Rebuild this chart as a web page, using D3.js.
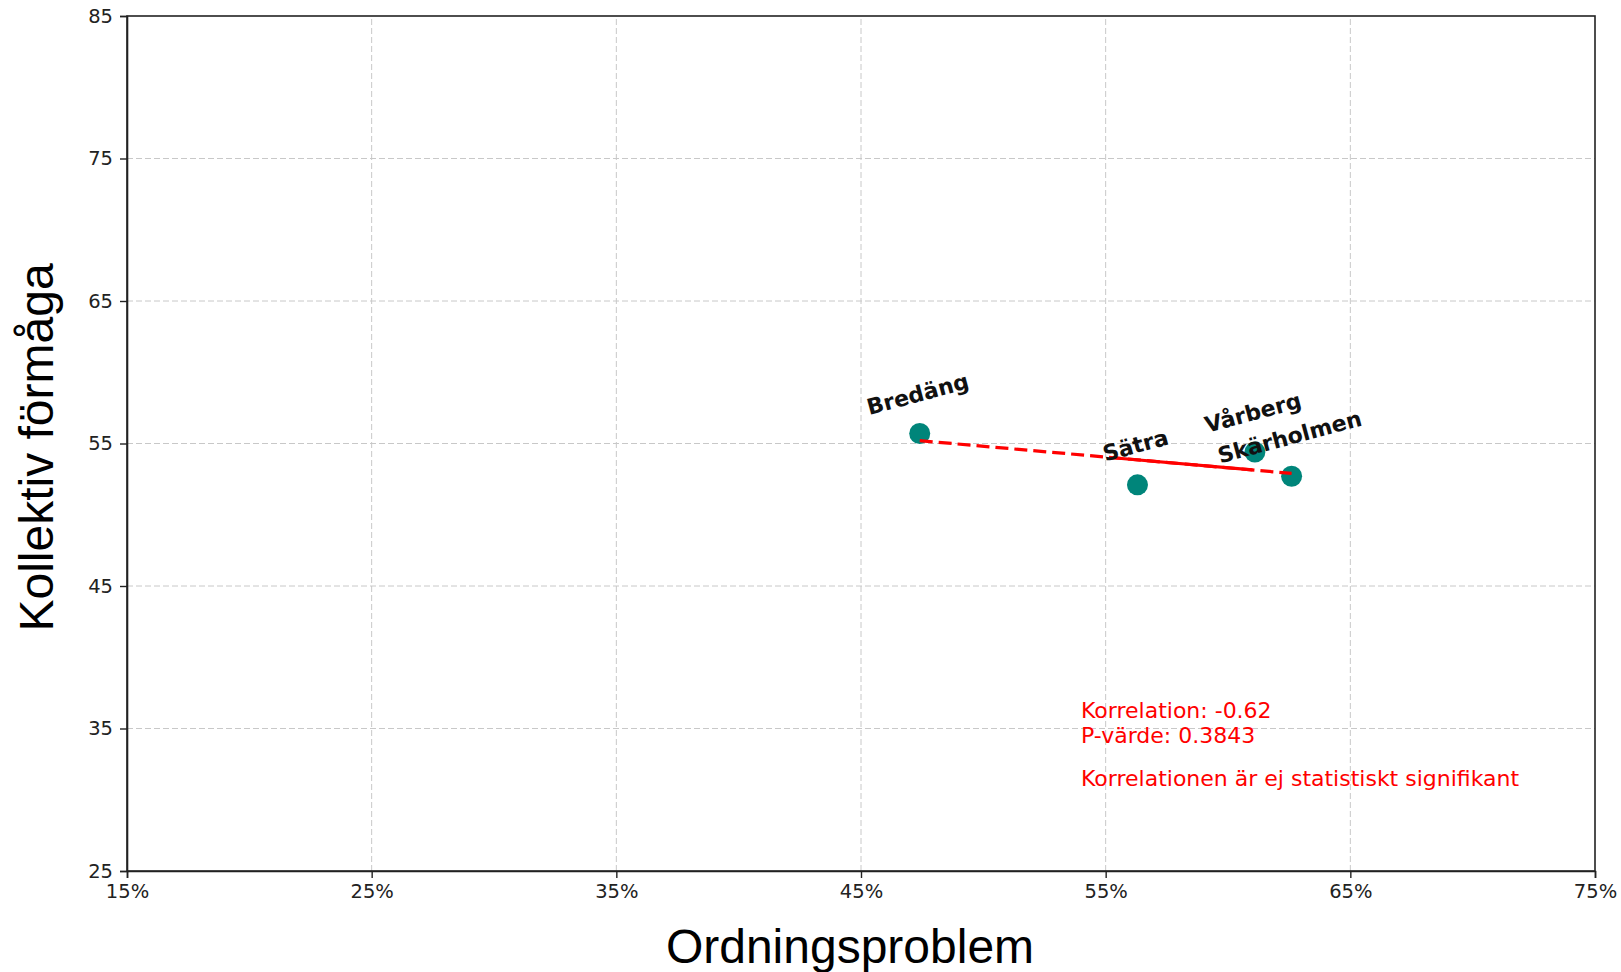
<!DOCTYPE html>
<html>
<head>
<meta charset="utf-8">
<script src="https://cdn.jsdelivr.net/npm/d3@7"></script>
<style>
  body { margin: 0; background: #fff; }
  svg { display: block; }
</style>
</head>
<body>
<div id="container"></div>
<script>
// data
const areas = ['Bredäng', 'Sätra', 'Vårberg', 'Skärholmen'];
const ordning = [47.4, 56.3, 61.1, 62.6];   // % (x)
const formaga = [55.7, 52.1, 54.4, 52.7];   // (y)

// trend line endpoints as drawn
const trendX = [47.4, 62.6];
const trendY = [55.2, 52.9];
// part of the trend line that shows solid
const solidX = [55.3, 61.0];
const solidY = [54.0, 53.15];

const xTicks = [15, 25, 35, 45, 55, 65, 75];
const yTicks = [25, 35, 45, 55, 65, 75, 85];

const statLines = ['Korrelation: -0.62', 'P-värde: 0.3843'];
const signifText = 'Korrelationen är ej statistiskt signifikant';

const width = 1621, height = 972;
const margin = { top: 16, right: 26, bottom: 101, left: 127 };

const svg = d3.select('#container').append('svg')
  .attr('width', width)
  .attr('height', height);

const x = d3.scaleLinear().domain([15, 75]).range([margin.left, width - margin.right]);
const y = d3.scaleLinear().domain([25, 85]).range([height - margin.bottom, margin.top]);

// grid
const grid = svg.append('g')
  .attr('stroke', '#c8c8c8')
  .attr('stroke-width', 1)
  .attr('stroke-dasharray', '6,3');
grid.selectAll('.vx').data(xTicks.slice(1, -1)).join('line')
  .attr('x1', d => x(d)).attr('x2', d => x(d))
  .attr('y1', y(25)).attr('y2', y(85));
grid.selectAll('.hy').data(yTicks.slice(1, -1)).join('line')
  .attr('x1', x(15)).attr('x2', x(75))
  .attr('y1', d => y(d)).attr('y2', d => y(d));

// axes
const xAxis = svg.append('g')
  .attr('transform', `translate(0,${height - margin.bottom})`)
  .call(d3.axisBottom(x).tickValues(xTicks).tickFormat(d => d + '%').tickSizeOuter(0).tickSize(7).tickPadding(6));
const yAxis = svg.append('g')
  .attr('transform', `translate(${margin.left},0)`)
  .call(d3.axisLeft(y).tickValues(yTicks).tickSizeOuter(0).tickSize(7).tickPadding(7));

[xAxis, yAxis].forEach(a => {
  a.selectAll('text')
    .style('font-family', 'DejaVu Sans')
    .style('font-size', '19.5px')
    .attr('fill', '#222');
  a.selectAll('line').attr('stroke', '#222').attr('stroke-width', 1.4);
  a.select('.domain').attr('stroke', '#222').attr('stroke-width', 1.6);
});

// top and right spines
svg.append('rect')
  .attr('x', x(15)).attr('y', y(85))
  .attr('width', x(75) - x(15)).attr('height', y(25) - y(85))
  .attr('fill', 'none')
  .attr('stroke', '#222')
  .attr('stroke-width', 1.6);

// points
const pts = areas.map((name, i) => ({ name, xv: ordning[i], yv: formaga[i] }));
svg.append('g').selectAll('circle').data(pts).join('circle')
  .attr('cx', d => x(d.xv))
  .attr('cy', d => y(d.yv))
  .attr('r', 10.5)
  .attr('fill', '#00857a');

// trend line
const line = d3.line().x(d => x(d[0])).y(d => y(d[1]));
svg.append('path')
  .datum(d3.zip(trendX, trendY))
  .attr('d', line)
  .attr('fill', 'none')
  .attr('stroke', '#ff0000')
  .attr('stroke-width', 3.2)
  .attr('stroke-dasharray', '13,6');
svg.append('path')
  .datum(d3.zip(solidX, solidY))
  .attr('d', line)
  .attr('fill', 'none')
  .attr('stroke', '#ff0000')
  .attr('stroke-width', 3.2);

// point labels
svg.append('g').selectAll('text').data(pts).join('text')
  .attr('transform', d => `translate(${x(d.xv)},${y(d.yv) - 32}) rotate(-15)`)
  .attr('text-anchor', 'middle')
  .style('font-family', 'DejaVu Sans')
  .style('font-weight', 'bold')
  .style('font-size', '22px')
  .attr('fill', '#111')
  .text(d => d.name);

// stats text
const statX = 1081;
svg.append('g').selectAll('text').data(statLines).join('text')
  .attr('x', statX)
  .attr('y', (d, i) => 718 + i * 25)
  .style('font-family', 'DejaVu Sans')
  .style('font-size', '22px')
  .attr('fill', '#ff0000')
  .text(d => d);
svg.append('text')
  .attr('x', statX)
  .attr('y', 786)
  .style('font-family', 'DejaVu Sans')
  .style('font-size', '22px')
  .attr('fill', '#ff0000')
  .text(signifText);

// axis titles
svg.append('text')
  .attr('x', 850)
  .attr('y', 963)
  .attr('text-anchor', 'middle')
  .style('font-family', 'Liberation Sans')
  .style('font-size', '48px')
  .attr('fill', '#000')
  .text('Ordningsproblem');

svg.append('text')
  .attr('transform', `translate(53,${(margin.top + height - margin.bottom) / 2 + 4}) rotate(-90)`)
  .attr('text-anchor', 'middle')
  .style('font-family', 'Liberation Sans')
  .style('font-size', '48px')
  .attr('fill', '#000')
  .text('Kollektiv förmåga');
</script>
</body>
</html>
